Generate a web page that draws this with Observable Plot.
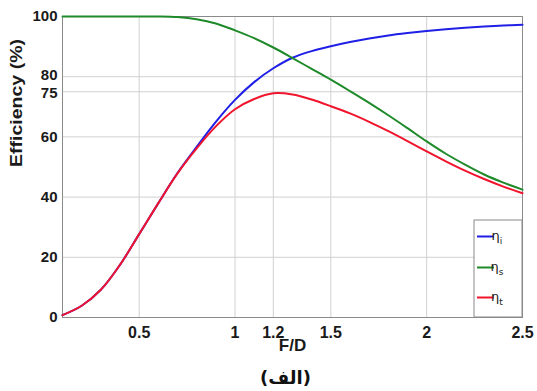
<!DOCTYPE html>
<html>
<head>
<meta charset="utf-8">
<script src="https://cdn.jsdelivr.net/npm/d3@7"></script>
<script src="https://cdn.jsdelivr.net/npm/@observablehq/plot@0.6"></script>
<style>
  body { margin: 0; background: white; }
  #caption { width: 537px; height: 31px; box-sizing: border-box; padding-left: 34px; padding-top: 5px; text-align: center; font: bold 18px "DejaVu Sans", sans-serif; line-height: 26px; color: #111; }
</style>
</head>
<body>
<div id="chart"></div>
<div id="caption"><span dir="rtl">(الف)</span></div>
<script>
// F/D sample points
const fd = [0.1, 0.2, 0.3, 0.4, 0.5, 0.6, 0.7, 0.8, 0.9, 1.0, 1.1, 1.2, 1.3, 1.4, 1.5, 1.6, 1.7, 1.8, 1.9, 2.0, 2.1, 2.2, 2.3, 2.4, 2.5];
// η_i (blue)
const etaI = [0.8, 3.9, 9.2, 17.5, 27.7, 38, 48, 56.7, 65, 72.3, 78.2, 82.8, 86.3, 88.5, 90.1, 91.5, 92.7, 93.7, 94.5, 95.2, 95.8, 96.3, 96.7, 97, 97.3];
// η_s (green)
const etaS = [100, 100, 100, 100, 100, 100, 99.8, 99.1, 97.7, 95.4, 92.8, 89.7, 86.2, 82.6, 79, 75.2, 71.3, 67.2, 62.9, 58.5, 54.4, 50.8, 47.5, 44.8, 42.5];
// η_t (red)
const etaT = [0.8, 3.9, 9.2, 17.5, 27.7, 38, 47.9, 56.2, 63.5, 69.2, 72.6, 74.5, 74.1, 72.4, 70.2, 67.8, 65, 61.9, 58.6, 55.2, 51.9, 48.8, 46, 43.5, 41.3];

const seriesNames = ["ηi", "ηs", "ηt"];
const seriesColors = ["#1f1fe6", "#1f8a2a", "#f0142d"];
const xTicks = [0.5, 1, 1.2, 1.5, 2, 2.5];
const yTicks = [0, 20, 40, 60, 75, 80, 100];

const rows = [];
[etaI, etaS, etaT].forEach((arr, k) => {
  arr.forEach((v, i) => rows.push({series: seriesNames[k], fd: fd[i], v}));
});

const W = 537, H = 360, mT = 16, mB = 43, mL = 62, mR = 15;

const svg = Plot.plot({
  width: W, height: H,
  marginTop: mT, marginBottom: mB, marginLeft: mL, marginRight: mR,
  style: {fontFamily: "'Liberation Sans', Arial, sans-serif", fontSize: "16px", fontWeight: "bold", background: "white", color: "#1a1a1a"},
  x: {domain: [0.1, 2.5], label: null},
  y: {domain: [0, 100], label: null},
  color: {domain: seriesNames, range: seriesColors},
  marks: [
    Plot.gridX(xTicks, {stroke: "#d0d0d0", strokeOpacity: 1}),
    Plot.gridY(yTicks, {stroke: "#d0d0d0", strokeOpacity: 1}),
    Plot.frame({stroke: "#8a8a8a"}),
    Plot.axisX(xTicks, {tickSize: 0, tickPadding: 9, tickFormat: d => String(d), label: null, fontSize: 16}),
    Plot.axisY(yTicks, {tickSize: 0, tickPadding: 5, tickFormat: d => String(d), label: null, fontSize: 15, className: "yticks"}),
    Plot.line(rows, {x: "fd", y: "v", z: "series", stroke: "series", curve: "catmull-rom", strokeWidth: 2}),
    Plot.text(["F/D"], {frameAnchor: "bottom", dy: 33, text: d => d, fontSize: 17, fontWeight: "bold"}),
    Plot.text(["Efficiency (%)"], {frameAnchor: "left", dx: -45.5, rotate: -90, text: d => d, fontSize: 16, fontWeight: "bold", className: "ylab"})
  ]
});

document.getElementById("chart").appendChild(svg);

// stretch y label to the reference length
d3.select(svg).selectAll(".ylab text").attr("textLength", 128).attr("lengthAdjust", "spacingAndGlyphs");

// nudge the two close tick labels apart slightly
d3.select(svg).selectAll(".yticks text").each(function() {
  const s = this.textContent;
  if (s === "80") d3.select(this).attr("dy", "-0.1em");
  if (s === "75") d3.select(this).attr("dy", "0.1em");
});

// Legend box in the lower-right corner of the plot frame
const right = W - mR, bottom = H - mB;
const lg = d3.select(svg).append("g").attr("class", "legend");
const lgW = 48, lgH = 97;
lg.append("rect").attr("x", right - lgW).attr("y", bottom - lgH).attr("width", lgW).attr("height", lgH)
  .attr("fill", "white").attr("stroke", "#8a8a8a");
const subs = ["i", "s", "t"];
const entryY = [236.5, 267.5, 297.5];
seriesNames.forEach((s, k) => {
  const yy = entryY[k];
  lg.append("line").attr("x1", right - lgW + 3).attr("x2", right - lgW + 20)
    .attr("y1", yy).attr("y2", yy).attr("stroke", seriesColors[k]).attr("stroke-width", 2);
  const t = lg.append("text").attr("x", right - lgW + 23).attr("y", yy + 3)
    .attr("font-family", "'DejaVu Sans', sans-serif").attr("font-size", 13).attr("font-weight", "normal").attr("fill", "#222");
  t.append("tspan").text("η");
  t.append("tspan").attr("dy", 4).attr("font-size", 9).text(subs[k]);
});
</script>
</body>
</html>
